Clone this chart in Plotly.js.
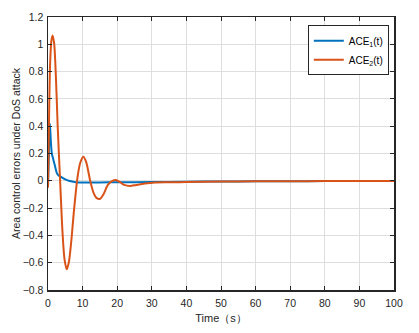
<!DOCTYPE html>
<html><head><meta charset="utf-8">
<script src="https://cdn.plot.ly/plotly-3.0.1.min.js"></script>
<style>html,body{margin:0;padding:0;background:#fff}#chart{width:419px;height:333px}</style>
</head><body><div id="chart"></div>
<script>
const timeACE1 = [0, 0.3, 0.55, 0.8, 1.1, 1.5, 2.0, 2.5, 3.0, 4, 5, 6, 8, 10, 15, 20, 30, 40, 50, 60, 70, 80, 90, 100];
const valuesACE1 = [-0.045, 0.25, 0.42, 0.3, 0.2, 0.16, 0.11, 0.06, 0.04, 0.025, 0.01, 0.0, -0.01, -0.012, -0.012, -0.011, -0.009, -0.007, -0.005, -0.004, -0.003, -0.002, -0.001, -0.001];
const timeACE2 = [0, 0.3, 0.6, 1.0, 1.35, 1.8, 2.3, 2.8, 3.5, 4.2, 4.8, 5.4, 6.0, 6.7, 7.5, 8.5, 9.3, 10.2, 11.0, 12.2, 13.2, 14.0, 15.0, 16.0, 17.3, 18.5, 19.6, 20.8, 22.0, 23.7, 25.5, 28, 31, 35, 40, 50, 60, 70, 80, 90, 100];
const valuesACE2 = [-0.05, 0.45, 0.85, 1.03, 1.065, 1.0, 0.75, 0.4, 0.0, -0.38, -0.58, -0.648, -0.6, -0.45, -0.22, 0.02, 0.13, 0.177, 0.14, 0.0, -0.09, -0.125, -0.133, -0.1, -0.03, -0.003, 0.005, -0.01, -0.03, -0.038, -0.03, -0.02, -0.013, -0.011, -0.009, -0.006, -0.004, -0.003, -0.002, -0.001, -0.001];
const seriesNames = ['ACE<sub>1</sub>(t)', 'ACE<sub>2</sub>(t)'];
const xTitle = 'Time（s）';
const yTitle = 'Area control errors under DoS attack';

const axisCommon = {
  showline: true, linecolor: '#262626', linewidth: 1.5, mirror: 'ticks',
  ticks: 'inside', ticklen: 4, tickwidth: 1, tickcolor: '#262626',
  showgrid: true, gridcolor: '#dedede', gridwidth: 1, zeroline: false,
  tickfont: {family: 'Liberation Sans, Arial, sans-serif', size: 10.5, color: '#262626'}
};
const data = [
  {x: timeACE1, y: valuesACE1, name: seriesNames[0], type: 'scatter', mode: 'lines', line: {color: '#0072BD', width: 2, shape: 'spline', smoothing: 0.6}},
  {x: timeACE2, y: valuesACE2, name: seriesNames[1], type: 'scatter', mode: 'lines', line: {color: '#D95319', width: 2, shape: 'spline', smoothing: 0.8}}
];
const layout = {
  width: 419, height: 333,
  margin: {l: 48, r: 25, t: 17, b: 43},
  paper_bgcolor: '#fff', plot_bgcolor: '#fff',
  font: {family: 'Liberation Sans, Arial, sans-serif', color: '#262626'},
  xaxis: Object.assign({}, axisCommon, {range: [0, 100], dtick: 10, tick0: 0, ticklabelstandoff: 3,
    title: {text: xTitle, font: {size: 11, color: '#262626'}, standoff: 6}}),
  yaxis: Object.assign({}, axisCommon, {range: [-0.8, 1.2], dtick: 0.2, tick0: 0, ticklabelstandoff: 1,
    title: {text: yTitle, font: {size: 10.5, color: '#262626'}, standoff: 0}}),
  showlegend: true,
  legend: {x: 0.985, y: 0.97, xanchor: 'right', yanchor: 'top', bgcolor: '#fff', bordercolor: '#262626', borderwidth: 1,
    font: {size: 10, color: '#000'}, tracegroupgap: 0}
};
Plotly.newPlot('chart', data, layout, {displayModeBar: false, staticPlot: true});
</script></body></html>
